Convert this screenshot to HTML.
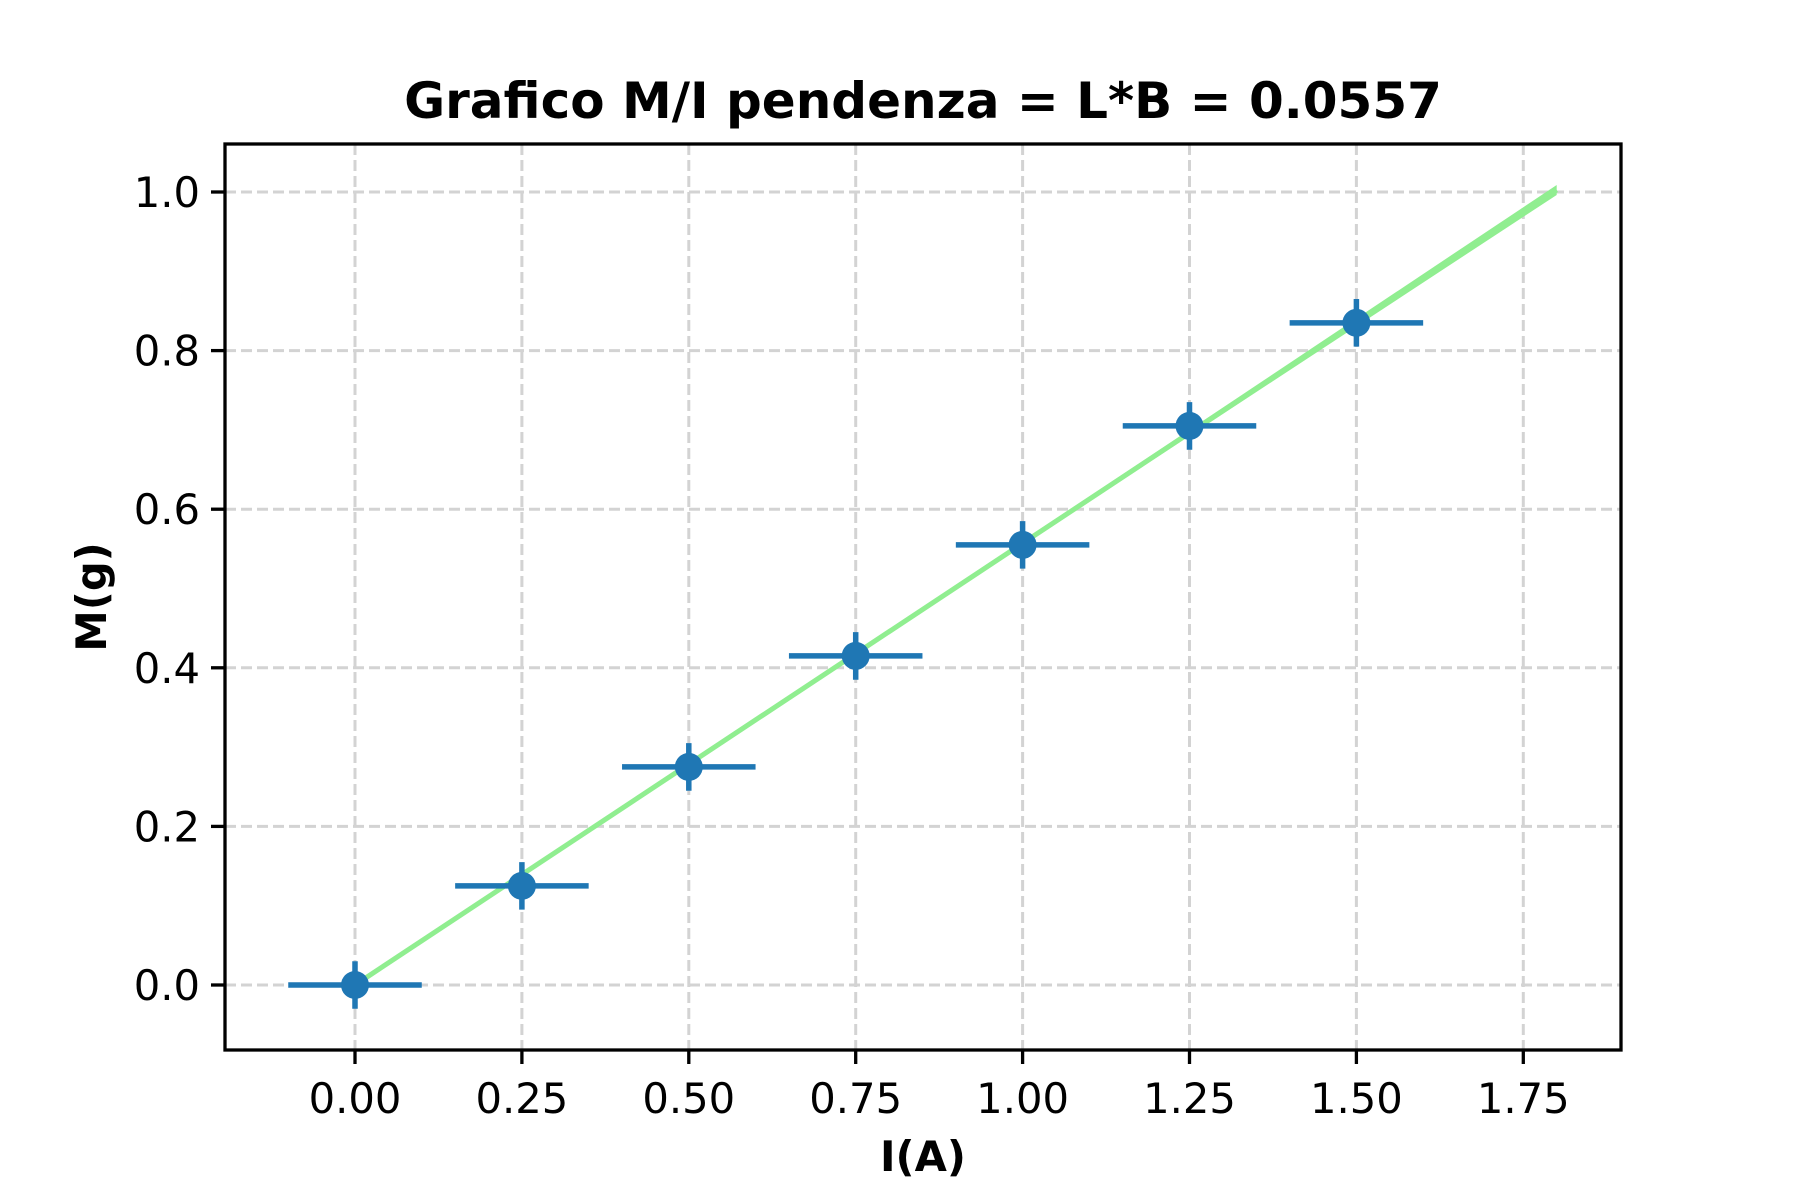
<!DOCTYPE html>
<html><head><meta charset="utf-8"><style>body{margin:0;background:#fff}svg{display:block}text{font-family:"DejaVu Sans","Liberation Sans",sans-serif}</style></head>
<body>
<svg id="chart" width="1800" height="1200" xmlns="http://www.w3.org/2000/svg">
<rect x="0" y="0" width="1800" height="1200" fill="#fff"/>
<g id="grid"></g>
<g id="fit"></g>
<g id="marks"></g>
<rect x="225" y="144" width="1396" height="906" fill="none" stroke="#000" stroke-width="3.3"/>
<g id="ticks"></g>
<text x="923" y="118" text-anchor="middle" font-size="50" font-weight="bold">Grafico M/I pendenza = L*B = 0.0557</text>
<text x="923" y="1171" text-anchor="middle" font-size="41.7" font-weight="bold">I(A)</text>
<text transform="translate(106,597) rotate(-90)" text-anchor="middle" font-size="41.7" font-weight="bold">M(g)</text>
</svg>
<script>
const xValues=[0,0.25,0.5,0.75,1.0,1.25,1.5];
const yValues=[0,0.125,0.275,0.415,0.555,0.705,0.835];
const xErr=[0.1,0.1,0.1,0.1,0.1,0.1,0.1];
const yErr=[0.03,0.03,0.03,0.03,0.03,0.03,0.03];
const slope=0.557;
const fitRange=[0,1.8];
const xTicks=[0,0.25,0.5,0.75,1.0,1.25,1.5,1.75];
const xTickLabels=["0.00","0.25","0.50","0.75","1.00","1.25","1.50","1.75"];
const yTicks=[0,0.2,0.4,0.6,0.8,1.0];
const yTickLabels=["0.0","0.2","0.4","0.6","0.8","1.0"];
const NS="http://www.w3.org/2000/svg";
const X=v=>355+v*667.6, Y=v=>985-v*793;
function mk(tag,attrs,parent){const e=document.createElementNS(NS,tag);for(const k in attrs)e.setAttribute(k,attrs[k]);document.getElementById(parent).appendChild(e);return e;}
xTicks.forEach((t,i)=>{
 const g=mk('line',{x1:X(t),x2:X(t),y1:144,y2:1050,stroke:'#d3d3d3','stroke-width':3,'stroke-dasharray':'11 5'},'grid');
 
 
 const tk=mk('line',{x1:X(t),x2:X(t),y1:1050,y2:1064,stroke:'#000','stroke-width':3.3},'ticks');
 
 
 const tl=mk('text',{x:X(t),y:1113,'text-anchor':'middle','font-size':41.7},'ticks');
 tl.textContent=xTickLabels[i];
 
 
});
yTicks.forEach((t,i)=>{
 const g=mk('line',{x1:225,x2:1621,y1:Y(t),y2:Y(t),stroke:'#d3d3d3','stroke-width':3,'stroke-dasharray':'11 5'},'grid');
 
 
 const tk=mk('line',{x1:211,x2:225,y1:Y(t),y2:Y(t),stroke:'#000','stroke-width':3.3},'ticks');
 
 
 const tl=mk('text',{x:200,y:Y(t)+15,'text-anchor':'end','font-size':41.7},'ticks');
 tl.textContent=yTickLabels[i];
 
 
});
const fl=mk('line',{x1:X(fitRange[0]),y1:Y(slope*fitRange[0]),x2:X(fitRange[1]),y2:Y(slope*fitRange[1]),stroke:'#90ee90','stroke-width':5},'fit');


const fl2=mk('polygon',{points:`${X(0.4)},${Y(slope*0.4)} ${X(fitRange[1])},${Y(slope*fitRange[1])-5} ${X(fitRange[1])},${Y(slope*fitRange[1])+5}`,fill:'#90ee90'},'fit');


xValues.forEach((x,i)=>{
 const y=yValues[i];
 const h=mk('line',{x1:X(x-xErr[i]),x2:X(x+xErr[i]),y1:Y(y),y2:Y(y),stroke:'#1f77b4','stroke-width':5.5},'marks');
 
 
 const v=mk('line',{x1:X(x),x2:X(x),y1:Y(y-yErr[i]),y2:Y(y+yErr[i]),stroke:'#1f77b4','stroke-width':5.5},'marks');
 
 
 const c=mk('circle',{cx:X(x),cy:Y(y),r:14,fill:'#1f77b4'},'marks');
 
 
});
</script>
</body></html>
